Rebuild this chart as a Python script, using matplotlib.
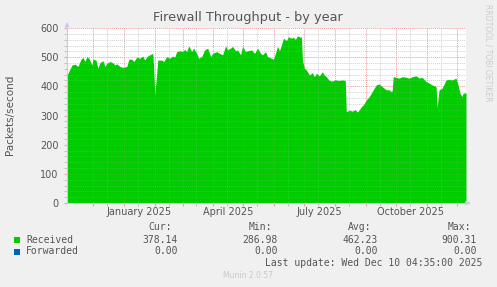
import matplotlib
matplotlib.use("Agg")
import matplotlib.pyplot as plt
from matplotlib.patches import Rectangle
import pandas as pd

# munin "by year" graph: 400 days ending at the last update
end_time = pd.Timestamp("2025-12-10 04:35:00")
start_time = end_time - pd.Timedelta(days=400)

# days since start_time, and received packets/second
day_offset = [0, 1, 5, 8, 11, 14, 16, 18, 20, 22, 25, 26, 29, 31, 33, 36, 38, 40, 43, 46,
              48, 50, 53, 56, 60, 62, 65, 67, 70, 73, 76, 78, 80, 83, 86, 87, 88, 90, 91, 95,
              97, 100, 103, 106, 108, 110, 113, 116, 118, 120, 122, 125, 127, 130, 132, 135, 138, 141, 144, 146,
              150, 153, 156, 159, 161, 164, 166, 169, 171, 174, 176, 179, 181, 185, 188, 191, 194, 196, 199, 201,
              205, 207, 209, 211, 213, 215, 217, 220, 222, 225, 227, 229, 231, 234, 235, 236, 238, 240, 243, 246,
              248, 250, 253, 256, 258, 260, 263, 266, 269, 273, 276, 279, 280, 283, 286, 289, 291, 293, 295, 297,
              300, 303, 306, 310, 313, 316, 320, 323, 325, 326, 327, 330, 333, 336, 340, 343, 346, 350, 353, 356,
              360, 363, 366, 370, 371, 373, 376, 380, 383, 386, 390, 392, 394, 396, 397, 400]
received = [439, 445, 473, 476, 468, 493, 499, 485, 502, 496, 473, 493, 490, 462, 481, 488, 468, 479, 485, 481,
            473, 477, 468, 465, 468, 493, 493, 485, 500, 496, 504, 490, 502, 508, 513, 456, 370, 446, 490, 490,
            485, 502, 496, 504, 500, 519, 522, 519, 527, 519, 539, 519, 531, 513, 496, 502, 525, 531, 502, 513,
            519, 513, 508, 539, 525, 531, 537, 522, 525, 508, 537, 519, 522, 525, 513, 531, 513, 508, 519, 502,
            496, 493, 513, 537, 522, 542, 565, 557, 570, 565, 568, 561, 573, 568, 570, 490, 462, 456, 439, 447,
            433, 445, 436, 450, 439, 433, 420, 418, 422, 420, 422, 420, 313, 318, 315, 320, 312, 319, 330, 336,
            353, 365, 382, 405, 408, 399, 388, 388, 382, 385, 433, 431, 428, 433, 431, 428, 433, 436, 428, 431,
            416, 411, 405, 399, 326, 388, 393, 422, 424, 422, 428, 405, 376, 365, 376, 378]
forwarded = [0.0] * len(day_offset)

stat_names = ["Cur:", "Min:", "Avg:", "Max:"]
received_stats = [378.14, 286.98, 462.23, 900.31]
forwarded_stats = [0.00, 0.00, 0.00, 0.00]

y_ticks = [0, 100, 200, 300, 400, 500, 600]
month_labels = ["January 2025", "April 2025", "July 2025", "October 2025"]
label_dates = ["2025-01-16", "2025-04-16", "2025-07-16", "2025-10-16"]

W, H = 497, 287
BG = "#F0F0F0"
TXT = "#555555"
GREEN = "#00CC00"
BLUE = "#0066B3"
MGRID = "#F2A0A0"
GRID = "#D4D4D4"
AXIS = "#C8C8F0"


def fx(x):
    return x / W


def fy(y):
    return 1 - y / H


fig = plt.figure(figsize=(W / 100, H / 100), dpi=100, facecolor=BG)
ax = fig.add_axes([fx(67), fy(203), 399 / W, 175 / H])
ax.set_facecolor("white")

dates = start_time + pd.to_timedelta(day_offset, unit="D")
ax.fill_between(dates, received, 0, color=GREEN, lw=0, zorder=2)
ax.plot(dates, forwarded, color=BLUE, lw=0.0, zorder=2)

ax.set_xlim(start_time, end_time)
ax.set_ylim(0, 600)

# dotted grid; only faintly visible through the green area
month_starts = pd.date_range("2024-12-01", "2025-12-01", freq="MS")
mid_months = pd.date_range("2024-11-15", "2025-11-15", freq="MS") + pd.Timedelta(days=14)
for z, a in [(1, 1.0), (3, 0.18)]:
    for v in range(20, 601, 20):
        major = v % 100 == 0
        ax.axhline(v, color=MGRID if major else GRID, lw=0.7, ls=(0, (1, 1)), alpha=a, zorder=z)
    for d in mid_months:
        ax.axvline(d, color=GRID, lw=0.7, ls=(0, (1, 1)), alpha=a, zorder=z)
    for d in month_starts:
        ax.axvline(d, color=MGRID, lw=0.7, ls=(0, (1, 1)), alpha=a, zorder=z)

for s in ["top", "right"]:
    ax.spines[s].set_visible(False)
for s in ["left", "bottom"]:
    ax.spines[s].set_color(AXIS)
    ax.spines[s].set_linewidth(0.8)
    ax.spines[s].set_zorder(4)

ax.set_yticks(y_ticks)
ax.set_yticklabels([str(v) for v in y_ticks], fontsize=7, color=TXT)
ax.set_yticks(range(0, 601, 20), minor=True)
ax.tick_params(axis="y", which="major", length=2, color=MGRID, pad=4)
ax.tick_params(axis="y", which="minor", length=2, color="#BBBBBB")

ax.set_xticks(month_starts)
ax.set_xticklabels([""] * len(month_starts))
ax.set_xticks(mid_months, minor=True)
ax.tick_params(axis="x", which="major", length=2, color=MGRID)
ax.tick_params(axis="x", which="minor", length=2, color="#BBBBBB")
for lab, d in zip(month_labels, label_dates):
    ax.text(pd.Timestamp(d), -0.025, lab, transform=ax.get_xaxis_transform(),
            ha="center", va="top", fontsize=7, color=TXT)

# axis arrows
ax.annotate("", xy=(0, 1.05), xytext=(0, 0.98), xycoords="axes fraction",
            arrowprops=dict(arrowstyle="-|>", color=AXIS, lw=0.8, mutation_scale=6))
ax.annotate("", xy=(1.018, 0), xytext=(1.0, 0), xycoords="axes fraction",
            arrowprops=dict(arrowstyle="-|>", color=AXIS, lw=0.8, mutation_scale=6))

fig.text(0.499, fy(18), "Firewall Throughput - by year", ha="center", va="center",
         fontsize=9.3, color=TXT)
fig.text(fx(10), fy(115), "Packets/second", rotation=90, ha="center", va="center",
         fontsize=7.5, color=TXT)
fig.text(fx(488), fy(53), "RRDTOOL / TOBI OETIKER", rotation=270, ha="center", va="center",
         fontsize=5.5, color="#CCCCCC")

mono = dict(family="DejaVu Sans Mono", fontsize=7, color=TXT, va="center")
stat_right = [178, 278, 377.5, 477]
for name, xr in zip(stat_names, stat_right):
    fig.text(fx(xr - 6), fy(227), name, ha="right", **mono)

rows = [("Received", GREEN, received_stats, 240), ("Forwarded", BLUE, forwarded_stats, 251.5)]
for label, col, stats, yy in rows:
    fig.patches.append(Rectangle((fx(14), fy(yy + 3)), 6 / W, 6 / H,
                                 transform=fig.transFigure, color=col, lw=0))
    fig.text(fx(26), fy(yy), label, ha="left", **mono)
    for v, xr in zip(stats, stat_right):
        fig.text(fx(xr), fy(yy), f"{v:.2f}", ha="right", **mono)

fig.text(fx(482.5), fy(263.5), "Last update: Wed Dec 10 04:35:00 2025", ha="right", **mono)
fig.text(0.499, fy(276), "Munin 2.0.57", ha="center", va="center", fontsize=5.5, color="#C8C8C8")

fig.savefig("out.png", dpi=100, facecolor=BG)
